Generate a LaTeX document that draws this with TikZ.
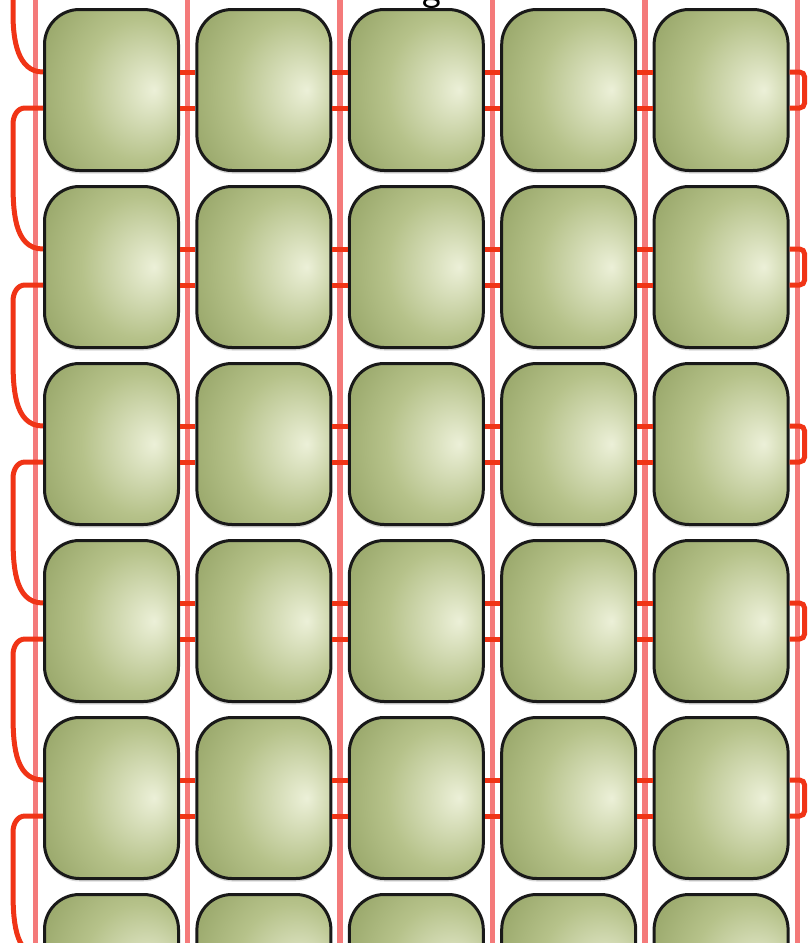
\documentclass[tikz,border=0pt]{standalone}
\usetikzlibrary{shadows}
\definecolor{railpink}{RGB}{244,122,122}
\definecolor{linkred}{RGB}{240,52,22}
\definecolor{cellhi}{RGB}{236,240,216}
\definecolor{cellmid}{RGB}{182,194,138}
\definecolor{celllo}{RGB}{134,150,86}
\pgfdeclareradialshading{cellshade}{\pgfpoint{16bp}{0bp}}{color(0bp)=(cellhi); color(22bp)=(cellmid); color(48bp)=(celllo); color(70bp)=(celllo!85!black)}
\tikzset{
  cell/.style={draw=black!90,line width=3pt,rounded corners=35pt,minimum width=134pt,minimum height=161pt,inner sep=0pt,shading=cellshade,
    drop shadow={shadow xshift=0pt,shadow yshift=-3pt,opacity=.3}},
  rail/.style={railpink,line width=5.5pt},
  link/.style={linkred,line width=5pt},
}
\begin{document}
\begin{tikzpicture}[x=1pt,y=1pt]
        \useasboundingbox (0,0) rectangle (808,-943);
        \node[font=\sffamily\fontsize{40}{40}\selectfont,anchor=base] (ttl) at (432,0) {g};
        \foreach \k in {0,...,5}{\draw[rail] ({35.3+152.4*\k},10) -- ++(0,-960);}
        \foreach \r in {1,...,6}
          \foreach \c in {1,...,5}
            \node[cell] (c-\r-\c) at ({111.5+152.4*(\c-1)},{-(90+177*(\r-1))}) {};
        \foreach \r in {1,...,6}{
          \foreach \c/\d in {1/2,2/3,3/4,4/5}{
            \draw[link] ([yshift=18pt]c-\r-\c.east) -- ([yshift=18pt]c-\r-\d.west);
            \draw[link] ([yshift=-18pt]c-\r-\c.east) -- ([yshift=-18pt]c-\r-\d.west);}
          \draw[link,rounded corners=5pt] ([yshift=18pt]c-\r-5.east) -- ++(15,0) |- ([yshift=-18pt]c-\r-5.east);}
        \coordinate (top) at (13,4);
        \draw[link] (top) -- ++(0,-18) to[out=-90,in=180] ([yshift=18pt]c-1-1.west);
        \foreach \r [evaluate=\r as \s using int(\r+1)] in {1,...,5}
          \draw[link] ([yshift=-18pt]c-\r-1.west) -- ++(-18,0) to[out=180,in=90] ++(-12,-16) -- ++(0,-55) to[out=-90,in=180] ([yshift=18pt]c-\s-1.west);
    \end{tikzpicture}
\end{document}
